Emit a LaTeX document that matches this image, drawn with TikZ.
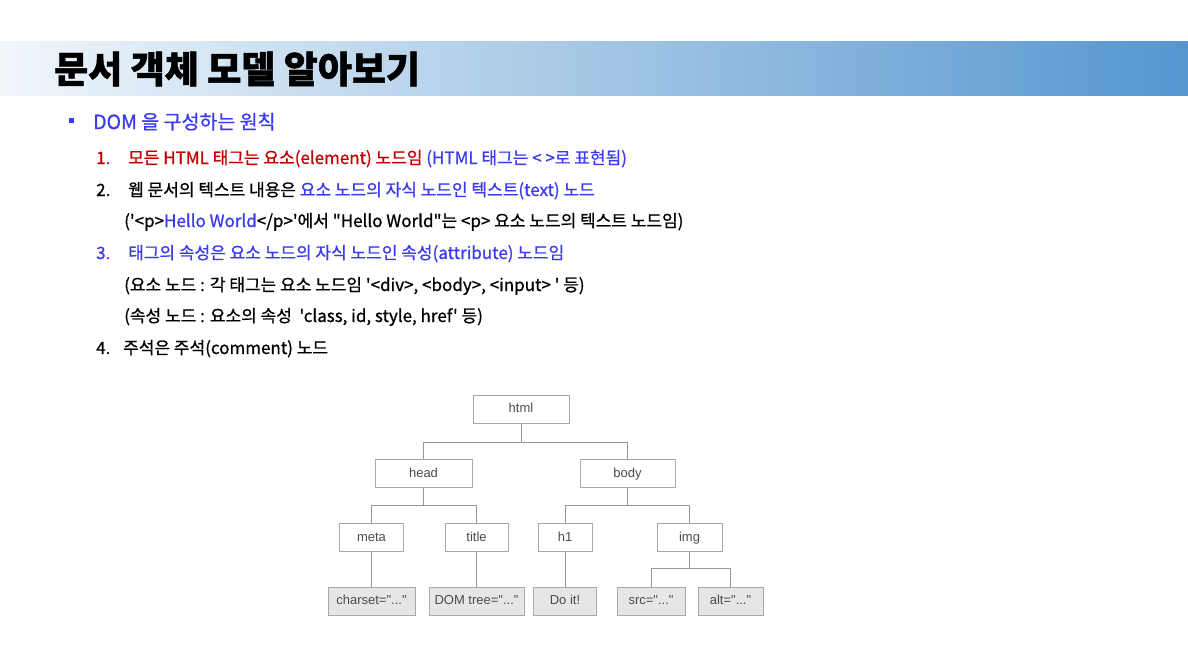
\documentclass[tikz,border=0pt]{standalone}
\usepackage{fontspec}
\usepackage{tikz}
\setmainfont{Noto Sans CJK KR}[Ligatures=TeXOff]
\newfontfamily\krtext{Noto Sans CJK KR}[Ligatures=TeXOff, FakeBold=0.8]
\newfontfamily\krtitle{Noto Sans CJK KR}[Ligatures=TeXOff, FakeBold=1.2]
\newfontfamily\treefont{Liberation Sans}
\definecolor{barblue}{HTML}{5596D0}
\definecolor{txtblue}{HTML}{3A3AF0}
\definecolor{txtred}{HTML}{C00000}
\definecolor{boxline}{HTML}{A8A8A8}
\definecolor{leaffill}{HTML}{E6E6E6}
\tikzset{
  link/.style={draw=boxline!90!black, line width=0.8pt},
  item/.style={anchor=base west, inner sep=0pt, font=\krtext\fontsize{17}{20}\selectfont},
  elem/.style={draw=boxline, line width=0.8pt, fill=white, minimum height=28pt, inner sep=0pt, text height=9.5pt, text depth=2.5pt, font=\treefont\fontsize{13}{15}\selectfont, text=black!70},
  leaf/.style={elem, fill=leaffill},
}

\begin{document}
\begin{tikzpicture}[x=1pt, y=-1pt]
\useasboundingbox (0,0) rectangle (1188,667);
\shade[left color=white!92!barblue, middle color=barblue!62!white, right color=barblue] (0,41) rectangle (1188,95);
\node[anchor=west, inner sep=0pt, font=\krtitle\bfseries\fontsize{37}{42}\selectfont] (title) at (54,69) {문서 객체 모델 알아보기};

\node[fill=txtblue, minimum size=5pt, inner sep=0pt] (bullet) at (71,120) {};
\node[item, text=txtblue, font=\krtext\fontsize{19.5}{22}\selectfont] (rules) at (93,129) {DOM 을 구성하는 원칙};

\node[item, text=txtred] (num1) at (96,164) {1.};
\node[item] (rule1) at (128,164) {\textcolor{txtred}{모든 HTML 태그는 요소(element) 노드임} \textcolor{txtblue}{(HTML 태그는 < >로 표현됨)}};
\node[item] (num2) at (96,196) {2.};
\node[item] (rule2) at (128,196) {웹 문서의 텍스트 내용은 \textcolor{txtblue}{요소 노드의 자식 노드인 텍스트(text) 노드}};
\node[item] (rule2a) at (124,227) {('<p>\textcolor{txtblue}{Hello World}</p>'에서 "Hello World"는 <p> 요소 노드의 텍스트 노드임)};
\node[item, text=txtblue] (num3) at (96,259) {3.};
\node[item, text=txtblue] (rule3) at (128,259) {태그의 속성은 요소 노드의 자식 노드인 속성(attribute) 노드임};
\node[item] (rule3a) at (124,291) {(요소 노드 : 각 태그는 요소 노드임 '<div>, <body>, <input> ' 등)};
\node[item] (rule3b) at (124,322) {(속성 노드 : 요소의 속성 \ 'class, id, style, href' 등)};
\node[item] (num4) at (96,354) {4.};
\node[item] (rule4) at (123,354) {주석은 주석(comment) 노드};

\node[elem, minimum width=96pt] (html) at (521,409) {html};
\node[elem, minimum width=97pt] (head) at (423.5,473.5) {head};
\node[elem, minimum width=95pt] (body) at (627.5,473.5) {body};
\node[elem, minimum width=64pt] (meta) at (371.5,537.5) {meta};
\node[elem, minimum width=63pt] (ttl) at (476.5,537.5) {title};
\node[elem, minimum width=54pt] (h1) at (565,537.5) {h1};
\node[elem, minimum width=65pt] (img) at (689.5,537.5) {img};
\node[leaf, minimum width=87pt] (charset) at (371.5,601) {charset="..."};
\node[leaf, minimum width=95pt] (domtree) at (476.5,601) {DOM tree="..."};
\node[leaf, minimum width=63pt] (doit) at (565,601) {Do it!};
\node[leaf, minimum width=68pt] (src) at (651,601) {src="..."};
\node[leaf, minimum width=65pt] (alt) at (730.5,601) {alt="..."};

\draw[link] (html.south) -- ++(0,19) -| (head.north);
\draw[link] (html.south) -- ++(0,19) -| (body.north);
\draw[link] (head.south) -- ++(0,17) -| (meta.north);
\draw[link] (head.south) -- ++(0,17) -| (ttl.north);
\draw[link] (body.south) -- ++(0,17) -| (h1.north);
\draw[link] (body.south) -- ++(0,17) -| (img.north);
\draw[link] (meta.south) -- (charset.north);
\draw[link] (ttl.south) -- (domtree.north);
\draw[link] (h1.south) -- (doit.north);
\draw[link] (img.south) -- ++(0,16) -| (src.north);
\draw[link] (img.south) -- ++(0,16) -| (alt.north);
\end{tikzpicture}
\end{document}
